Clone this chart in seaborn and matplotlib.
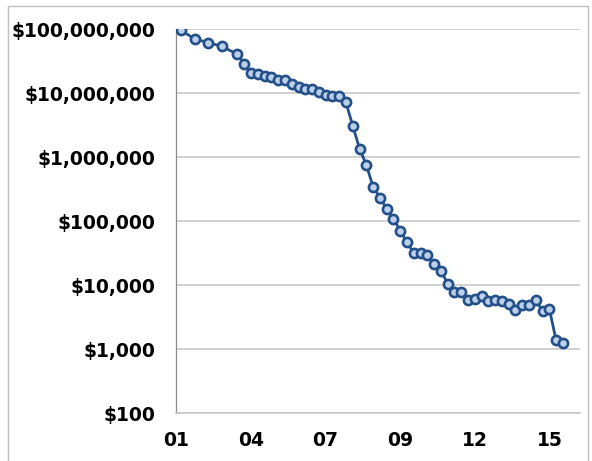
import pandas as pd
import matplotlib.pyplot as plt
import seaborn as sns
from matplotlib.patches import Rectangle

# cost per genome, sampled dates (year-month)
dates = [
    "2001-09", "2002-03", "2002-09", "2003-03", "2003-10",
    "2004-01", "2004-04", "2004-07", "2004-10",
    "2005-01", "2005-04", "2005-07", "2005-10",
    "2006-01", "2006-04", "2006-07", "2006-10",
    "2007-01", "2007-04", "2007-07", "2007-10",
    "2008-01", "2008-04", "2008-07", "2008-10",
    "2009-01", "2009-04", "2009-07", "2009-10",
    "2010-01", "2010-04", "2010-07", "2010-10",
    "2011-01", "2011-04", "2011-07", "2011-10",
    "2012-01", "2012-04", "2012-07", "2012-10",
    "2013-01", "2013-04", "2013-07", "2013-10",
    "2014-01", "2014-04", "2014-07", "2014-10",
    "2015-01", "2015-04", "2015-07", "2015-10",
]
cost = [
    95263072, 70175437, 61448422, 53751684, 40157554,
    28780376, 20442576, 19934346, 18519312,
    17534970, 16159699, 16180224, 13801124,
    12585659, 11732535, 11455315, 10474556,
    9408739, 9047003, 8927342, 7147571,
    3063820, 1352982, 752080, 342502,
    232735, 154714, 108065, 70333,
    46774, 31512, 31125, 29092,
    20963, 16712, 10497, 7743,
    7666, 5901, 5985, 6618,
    5671, 5826, 5550, 5096,
    4008, 4920, 4905, 5731,
    3970, 4211, 1363, 1245,
]
x_tick_labels = ["01", "04", "07", "09", "12", "15"]
y_ticks = [1e2, 1e3, 1e4, 1e5, 1e6, 1e7, 1e8]


def to_year(s):
    y, m = s.split("-")
    return int(y) + int(m) / 12


def main():
    df = pd.DataFrame({"x": [to_year(d) for d in dates], "cost": cost})

    sns.set_style("white")
    plt.rcParams["font.family"] = ["DejaVu Sans"]

    fig = plt.figure(figsize=(5.92, 4.61), dpi=100)
    ax = fig.add_axes([176 / 592, 48 / 461, 404 / 592, 384 / 461])

    sns.lineplot(data=df, x="x", y="cost", ax=ax, color="#24508a",
                 linewidth=2.0, marker="o", markersize=6.6,
                 markerfacecolor="#bcd0ea", markeredgecolor="#24508a",
                 markeredgewidth=1.9, zorder=3)

    ax.set_yscale("log")
    ax.set_ylim(1e2, 1e8)
    x0, step = 2001.566, 2.758
    ax.set_xlim(x0, x0 + 404 / 27.12)
    ax.set_xticks([x0 + i * step for i in range(len(x_tick_labels))])
    ax.set_xticklabels(x_tick_labels)
    ax.set_yticks(y_ticks)
    ax.set_yticklabels(["${:,.0f}".format(v) for v in y_ticks])
    ax.minorticks_off()

    ax.grid(axis="y", color="#c4c4c4", linewidth=1.1)
    ax.grid(axis="x", visible=False)
    for side in ["top", "right"]:
        ax.spines[side].set_visible(False)
    ax.spines["left"].set_color("#8c8c8c")
    ax.spines["left"].set_linewidth(0.9)
    ax.spines["bottom"].set_color("#c4c4c4")
    ax.spines["bottom"].set_linewidth(1.1)

    ax.tick_params(axis="y", length=5, width=0.9, color="#c4c4c4", pad=10,
                   labelsize=13.5)
    ax.tick_params(axis="x", length=4.3, width=0.9, color="#c4c4c4", pad=9,
                   labelsize=13.5)
    for lab in ax.get_xticklabels() + ax.get_yticklabels():
        lab.set_fontweight("bold")
        lab.set_color("black")
    ax.set_xlabel("")
    ax.set_ylabel("")

    # chart area border
    fig.patches.append(Rectangle((7.5 / 592, -0.1), 580.5 / 592, 1.1 - 6 / 461,
                                 transform=fig.transFigure, fill=False,
                                 edgecolor="#bfbfbf", linewidth=1.0))

    fig.savefig("out.png", dpi=100)


if __name__ == "__main__":
    main()
